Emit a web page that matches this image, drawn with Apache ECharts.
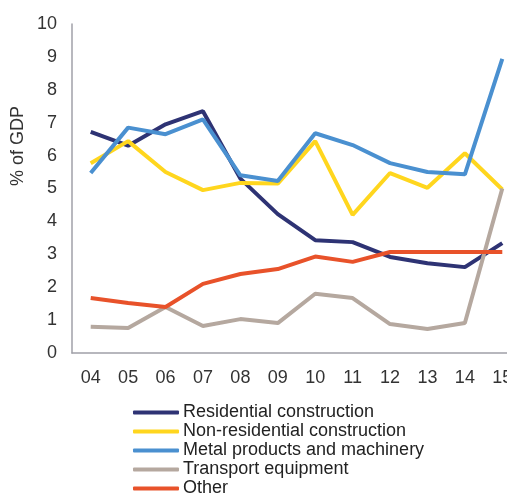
<!DOCTYPE html>
<html><head><meta charset="utf-8">
<script src="https://cdn.jsdelivr.net/npm/echarts@6/dist/echarts.min.js"></script>
<style>html,body{margin:0;padding:0;background:#fff;overflow:hidden;width:507px;height:494px}#c{width:530px;height:530px}</style>
</head><body><div id="c"></div>
<script>
const categories = ['04','05','06','07','08','09','10','11','12','13','14','15'];
const residential = [6.72,6.3,6.95,7.35,5.3,4.22,3.43,3.37,2.92,2.73,2.61,3.34];
const nonResidential = [5.77,6.44,5.5,4.95,5.17,5.15,6.44,4.2,5.47,5.02,6.07,4.97];
const metal = [5.47,6.85,6.65,7.1,5.4,5.23,6.68,6.32,5.77,5.5,5.43,8.94];
const transport = [0.8,0.76,1.4,0.82,1.03,0.91,1.8,1.67,0.88,0.73,0.91,5.0];
const other = [1.67,1.52,1.4,2.1,2.4,2.55,2.93,2.77,3.07,3.07,3.07,3.07];
const yTicks = [0,1,2,3,4,5,6,7,8,9,10];

const names = ['Residential construction','Non-residential construction','Metal products and machinery','Transport equipment','Other'];
const colors = ['#2e3374','#ffd61e','#4a90d0','#b5a89f','#e8522a'];
const datas = [residential, nonResidential, metal, transport, other];

const chart = echarts.init(document.getElementById('c'));
chart.setOption({
  animation:false,
  textStyle:{fontFamily:'Liberation Sans, Arial, sans-serif'},
  grid:{left:72, right:9, top:24, bottom:177},
  xAxis:{type:'category', data:categories, boundaryGap:true,
    axisLine:{lineStyle:{color:'#a0a0a8', width:1.5}}, axisTick:{show:false},
    axisLabel:{color:'#333', fontSize:18, margin:16}},
  yAxis:{type:'value', min:yTicks[0], max:yTicks[yTicks.length-1], interval:1,
    axisLine:{show:true, lineStyle:{color:'#a0a0a8', width:1.5}}, axisTick:{show:false},
    splitLine:{show:false}, axisLabel:{color:'#333', fontSize:18, margin:15}},
  legend:{orient:'vertical', left:128, top:398, itemWidth:46, itemHeight:4, itemGap:0,
    icon:'roundRect', textStyle:{fontSize:18, color:'#222', lineHeight:19, padding:[0,0,0,-1]},
    data:names},
  graphic:[{type:'text', x:18, y:146, rotation:Math.PI/2,
    style:{text:'% of GDP', fontSize:18, fill:'#333', align:'center', verticalAlign:'middle',
      fontFamily:'Liberation Sans, Arial, sans-serif'}}],
  series: names.map((n,i)=>({name:n, type:'line', data:datas[i], symbol:'none',
    lineStyle:{width:4, color:colors[i]}, itemStyle:{color:colors[i]}}))
});
</script></body></html>
